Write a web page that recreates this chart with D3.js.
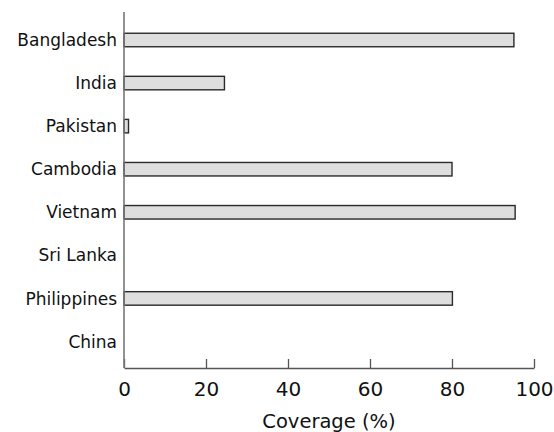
<!DOCTYPE html>
<html>
<head>
<meta charset="utf-8">
<script src="https://cdn.jsdelivr.net/npm/d3@7"></script>
<style>
  html, body { margin: 0; padding: 0; background: #fff; }
  svg { display: block; }
  text { font-family: "DejaVu Sans", "Open Sans", sans-serif; fill: #111; }
</style>
</head>
<body>
<svg id="chart" width="554" height="432"></svg>
<script>
// Coverage by country (%)
const countries = ["Bangladesh", "India", "Pakistan", "Cambodia", "Vietnam", "Sri Lanka", "Philippines", "China"];
const coverage  = [95.1, 24.5, 1.1, 80.0, 95.4, 0, 80.1, 0];
const xTicks    = [0, 20, 40, 60, 80, 100];
const xTitle    = "Coverage (%)";

const svg = d3.select("#chart");
const plot = { left: 124, right: 534, top: 12, bottom: 368 };

const x = d3.scaleLinear().domain([0, 100]).range([plot.left, plot.right]);
const y = d3.scalePoint().domain(countries).range([40, 341.5]);
const barH = 13.5;

// bars
svg.append("g").selectAll("rect")
  .data(countries.map((c, i) => ({ c, v: coverage[i] })))
  .join("rect")
  .attr("x", x(0))
  .attr("y", d => y(d.c) - barH / 2)
  .attr("width", d => x(d.v) - x(0))
  .attr("height", barH)
  .attr("fill", "#dedede")
  .attr("stroke", "#2a2a2a")
  .attr("stroke-width", 1.4);

// x axis with inward ticks
const xAxis = svg.append("g")
  .attr("transform", `translate(0,${plot.bottom})`)
  .call(d3.axisBottom(x).tickValues(xTicks).tickSize(-9).tickSizeOuter(0));
xAxis.select(".domain").attr("stroke", "#555").attr("stroke-width", 1.5);
xAxis.selectAll(".tick line").attr("stroke", "#555").attr("stroke-width", 1.3);
xAxis.selectAll(".tick text")
  .attr("font-size", 20)
  .attr("font-family", "'DejaVu Sans', sans-serif")
  .attr("fill", "#111")
  .attr("dy", null)
  .attr("y", 28);

// y axis line
svg.append("line")
  .attr("x1", plot.left).attr("x2", plot.left)
  .attr("y1", plot.top).attr("y2", plot.bottom)
  .attr("stroke", "#777").attr("stroke-width", 1.6);

// category labels
svg.append("g").selectAll("text")
  .data(countries)
  .join("text")
  .attr("x", plot.left - 7)
  .attr("y", d => y(d))
  .attr("dy", "0.36em")
  .attr("text-anchor", "end")
  .attr("font-size", 17)
  .text(d => d);

// axis title
svg.append("text")
  .attr("x", (plot.left + plot.right) / 2)
  .attr("y", 427.5)
  .attr("text-anchor", "middle")
  .attr("font-size", 19.5)
  .text(xTitle);
</script>
</body>
</html>
